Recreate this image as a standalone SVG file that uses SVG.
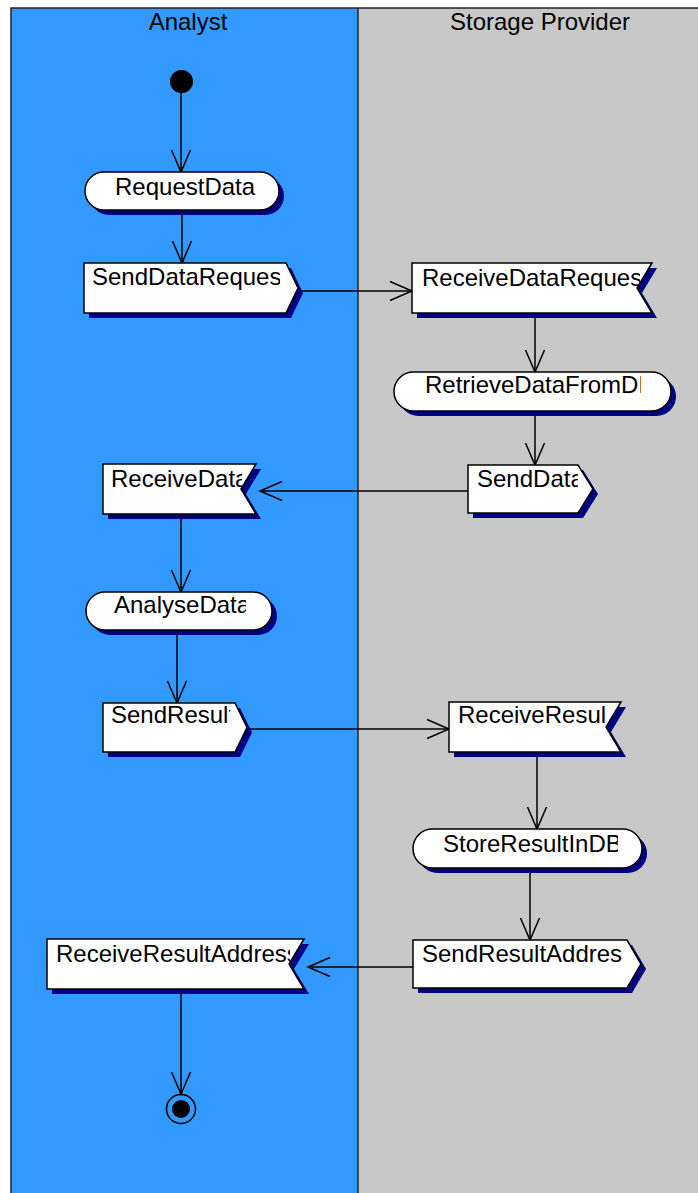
<svg xmlns="http://www.w3.org/2000/svg" width="698" height="1193" viewBox="0 0 698 1193">
  <style>
    .lbl { font-family: "Liberation Sans", Arial, sans-serif; font-size: 24px; fill: #000; }
    .hdr { font-family: "Liberation Sans", Arial, sans-serif; font-size: 24px; fill: #000; text-anchor: middle; }
    .body { fill: #fff; stroke: #000; stroke-width: 1.5; stroke-linejoin: miter; }
    .shadow { fill: #000080; stroke: none; }
    .edge { fill: none; stroke: #000; stroke-width: 1.5; marker-end: url(#open); }
    .lane { stroke: #222; stroke-width: 1.5; }
  </style>
  <defs>
    <marker id="open" markerUnits="userSpaceOnUse" viewBox="-24 -11 26 22" markerWidth="26" markerHeight="22" refX="0" refY="0" orient="auto">
      <path d="M -22 -9.5 L 0 0 L -22 9.5" fill="none" stroke="#000" stroke-width="1.5"/>
    </marker>
    <clipPath id="c1"><rect x="110" y="172" width="146" height="38"/></clipPath>
    <clipPath id="c2"><rect x="88" y="263" width="192" height="50"/></clipPath>
    <clipPath id="c3"><rect x="416" y="263" width="224" height="50"/></clipPath>
    <clipPath id="c4"><rect x="420" y="372" width="221" height="39"/></clipPath>
    <clipPath id="c5"><rect x="472" y="465" width="106" height="48"/></clipPath>
    <clipPath id="c6"><rect x="106" y="464" width="136" height="50"/></clipPath>
    <clipPath id="c7"><rect x="110" y="592" width="136" height="38"/></clipPath>
    <clipPath id="c8"><rect x="106" y="703" width="124" height="49"/></clipPath>
    <clipPath id="c9"><rect x="452" y="702" width="153" height="50"/></clipPath>
    <clipPath id="c10"><rect x="438" y="829" width="180" height="39"/></clipPath>
    <clipPath id="c11"><rect x="50" y="939" width="240" height="50"/></clipPath>
    <clipPath id="c12"><rect x="416" y="940" width="207" height="48"/></clipPath>
  </defs>

  <!-- swimlanes -->
  <g id="lanes">
    <rect x="0" y="0" width="698" height="1193" fill="#fff"/>
    <rect x="11" y="8" width="347" height="1190" fill="#3399ff"/>
    <rect x="358" y="8" width="345" height="1190" fill="#c8c8c8"/>
    <path class="lane" fill="none" d="M 11 1198 L 11 8 L 703 8 M 358 8 L 358 1198"/>
    <text class="hdr" x="188" y="30">Analyst</text>
    <text class="hdr" x="540" y="30">Storage Provider</text>
  </g>

  <!-- connectors -->
  <g id="connectors">
    <path class="edge" d="M 181 93 L 181 172"/>
    <path class="edge" d="M 182 210 L 182 263"/>
    <path class="edge" d="M 298 291 L 412 291"/>
    <path class="edge" d="M 535 313 L 535 372"/>
    <path class="edge" d="M 535 411 L 535 465"/>
    <path class="edge" d="M 468 491 L 260 491"/>
    <path class="edge" d="M 181 514 L 181 592"/>
    <path class="edge" d="M 177 630 L 177 703"/>
    <path class="edge" d="M 247 729 L 449 729"/>
    <path class="edge" d="M 537 752 L 537 829"/>
    <path class="edge" d="M 530 868 L 530 940"/>
    <path class="edge" d="M 413 967 L 308 967"/>
    <path class="edge" d="M 181 989 L 181 1094"/>
  </g>

  <!-- start -->
  <g id="start">
    <circle cx="181.5" cy="81.5" r="11.5" fill="#000"/>
  </g>

  <!-- action: RequestData -->
  <g id="RequestData">
    <rect class="shadow" x="90" y="177" width="194" height="38" rx="19"/>
    <rect class="body" x="85" y="172" width="194" height="38" rx="19"/>
    <text class="lbl" x="115" y="195" clip-path="url(#c1)">RequestData</text>
  </g>

  <!-- send signal: SendDataRequest -->
  <g id="SendDataRequest">
    <path class="shadow" d="M 89 268 L 291 268 L 303 293 L 291 318 L 89 318 Z"/>
    <path class="body" d="M 84 263 L 286 263 L 298 288 L 286 313 L 84 313 Z"/>
    <text class="lbl" x="92" y="285" clip-path="url(#c2)">SendDataRequest</text>
  </g>

  <!-- receive signal: ReceiveDataRequest -->
  <g id="ReceiveDataRequest">
    <path class="shadow" d="M 417 268 L 657 268 L 642 293 L 657 318 L 417 318 Z"/>
    <path class="body" d="M 412 263 L 652 263 L 637 288 L 652 313 L 412 313 Z"/>
    <text class="lbl" x="422" y="286" clip-path="url(#c3)">ReceiveDataRequest</text>
  </g>

  <!-- action: RetrieveDataFromDB -->
  <g id="RetrieveDataFromDB">
    <rect class="shadow" x="399" y="377" width="277" height="39" rx="19.5"/>
    <rect class="body" x="394" y="372" width="277" height="39" rx="19.5"/>
    <text class="lbl" x="425" y="393" clip-path="url(#c4)">RetrieveDataFromDB</text>
  </g>

  <!-- send signal: SendData -->
  <g id="SendData">
    <path class="shadow" d="M 473 470 L 583 470 L 598 494 L 583 518 L 473 518 Z"/>
    <path class="body" d="M 468 465 L 578 465 L 593 489 L 578 513 L 468 513 Z"/>
    <text class="lbl" x="477" y="487" clip-path="url(#c5)">SendData</text>
  </g>

  <!-- receive signal: ReceiveData -->
  <g id="ReceiveData">
    <path class="shadow" d="M 108 469 L 261 469 L 246 494 L 261 519 L 108 519 Z"/>
    <path class="body" d="M 103 464 L 256 464 L 241 489 L 256 514 L 103 514 Z"/>
    <text class="lbl" x="111" y="487" clip-path="url(#c6)">ReceiveData</text>
  </g>

  <!-- action: AnalyseData -->
  <g id="AnalyseData">
    <rect class="shadow" x="91" y="597" width="186" height="38" rx="19"/>
    <rect class="body" x="86" y="592" width="186" height="38" rx="19"/>
    <text class="lbl" x="114" y="613" clip-path="url(#c7)">AnalyseData</text>
  </g>

  <!-- send signal: SendResult -->
  <g id="SendResult">
    <path class="shadow" d="M 108 708 L 240 708 L 252 732.5 L 240 757 L 108 757 Z"/>
    <path class="body" d="M 103 703 L 235 703 L 247 727.5 L 235 752 L 103 752 Z"/>
    <text class="lbl" x="111" y="723" clip-path="url(#c8)">SendResult</text>
  </g>

  <!-- receive signal: ReceiveResult -->
  <g id="ReceiveResult">
    <path class="shadow" d="M 454 707 L 626 707 L 611 732 L 626 757 L 454 757 Z"/>
    <path class="body" d="M 449 702 L 621 702 L 606 727 L 621 752 L 449 752 Z"/>
    <text class="lbl" x="458" y="723" clip-path="url(#c9)">ReceiveResult</text>
  </g>

  <!-- action: StoreResultInDB -->
  <g id="StoreResultInDB">
    <rect class="shadow" x="418" y="834" width="229" height="39" rx="19.5"/>
    <rect class="body" x="413" y="829" width="229" height="39" rx="19.5"/>
    <text class="lbl" x="443" y="852" clip-path="url(#c10)">StoreResultInDB</text>
  </g>

  <!-- receive signal: ReceiveResultAddress -->
  <g id="ReceiveResultAddress">
    <path class="shadow" d="M 52 944 L 309 944 L 294 969 L 309 994 L 52 994 Z"/>
    <path class="body" d="M 47 939 L 304 939 L 289 964 L 304 989 L 47 989 Z"/>
    <text class="lbl" x="56" y="962" clip-path="url(#c11)">ReceiveResultAddress</text>
  </g>

  <!-- send signal: SendResultAddress -->
  <g id="SendResultAddress">
    <path class="shadow" d="M 418 945 L 632 945 L 646 969 L 632 993 L 418 993 Z"/>
    <path class="body" d="M 413 940 L 627 940 L 641 964 L 627 988 L 413 988 Z"/>
    <text class="lbl" x="422" y="962" clip-path="url(#c12)">SendResultAddress</text>
  </g>

  <!-- final -->
  <g id="final">
    <circle cx="181" cy="1109" r="14.5" fill="none" stroke="#000" stroke-width="1.5"/>
    <circle cx="181" cy="1109" r="9" fill="#000"/>
  </g>
</svg>
